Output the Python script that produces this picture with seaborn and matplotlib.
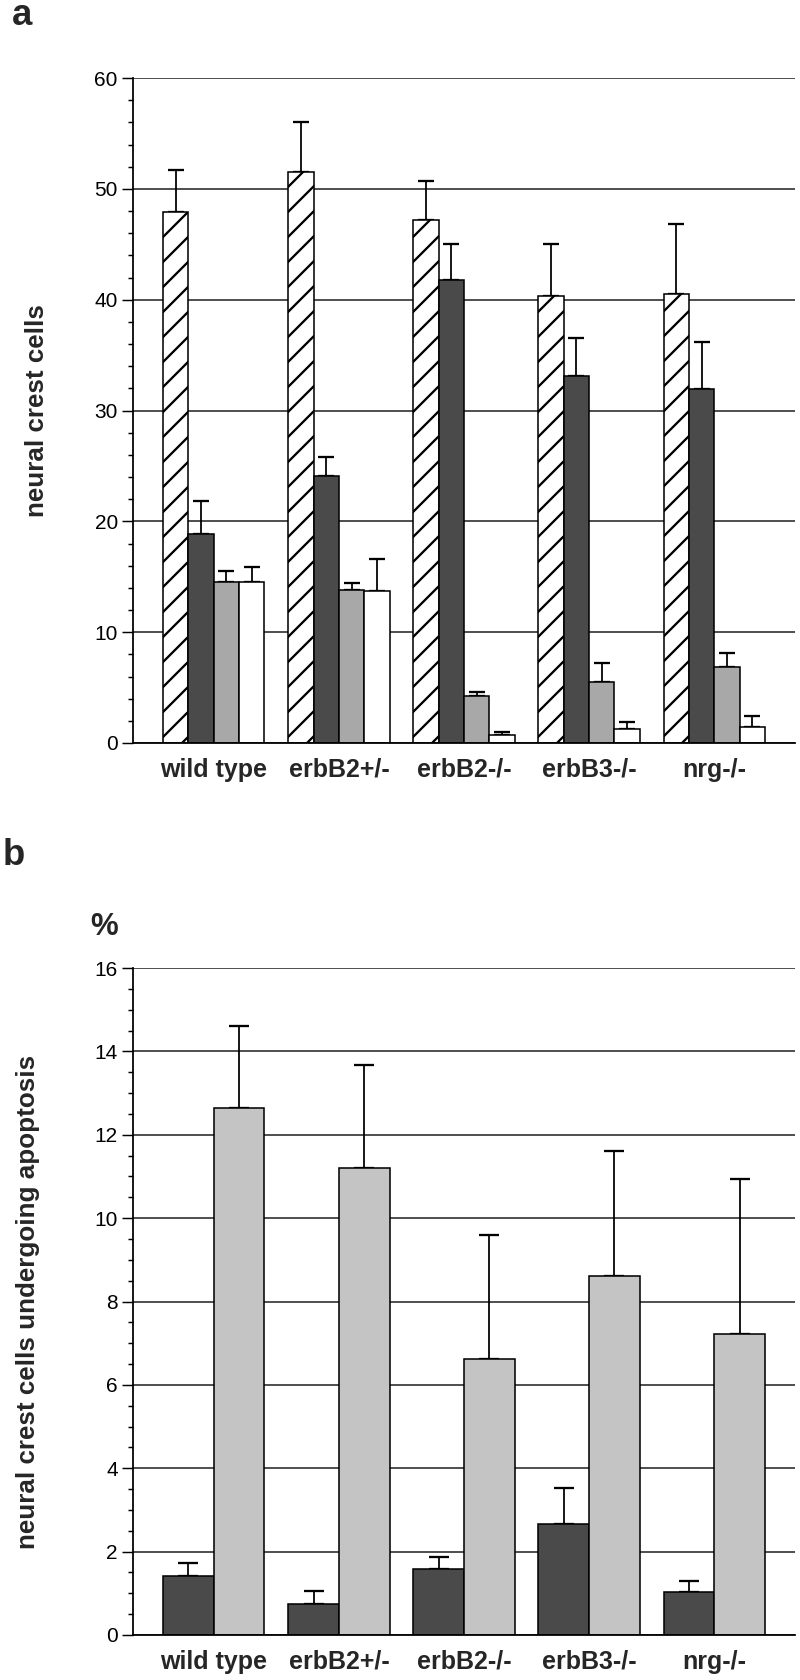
import numpy as np
import pandas as pd
import matplotlib
matplotlib.use("Agg")
import matplotlib.pyplot as plt
import seaborn as sns
from matplotlib.ticker import MultipleLocator

# ---------------- data ----------------
groups = ["wild type", "erbB2+/-", "erbB2-/-", "erbB3-/-", "nrg-/-"]

# panel a : neural crest cells (4 series)
a_series = ["s1", "s2", "s3", "s4"]
a_s1 = [47.9, 51.5, 47.2, 40.3, 40.5]
a_s1_err = [3.8, 4.5, 3.5, 4.7, 6.3]
a_s2 = [18.9, 24.1, 41.8, 33.1, 31.9]
a_s2_err = [2.9, 1.7, 3.2, 3.4, 4.3]
a_s3 = [14.5, 13.8, 4.2, 5.5, 6.9]
a_s3_err = [1.0, 0.6, 0.4, 1.7, 1.2]
a_s4 = [14.5, 13.7, 0.7, 1.3, 1.4]
a_s4_err = [1.4, 2.9, 0.3, 0.6, 1.0]
a_yticks = [0, 10, 20, 30, 40, 50, 60]

# panel b : % apoptosis (2 series)
b_series = ["b1", "b2"]
b_s1 = [1.42, 0.74, 1.58, 2.67, 1.03]
b_s1_err = [0.31, 0.32, 0.28, 0.86, 0.27]
b_s2 = [12.64, 11.2, 6.63, 8.6, 7.23]
b_s2_err = [1.96, 2.48, 2.97, 3.0, 3.71]
b_yticks = [0, 2, 4, 6, 8, 10, 12, 14, 16]

# ---------------- style ----------------
sns.set_theme(style="ticks")
plt.rcParams["font.family"] = ["Liberation Sans", "DejaVu Sans"]
plt.rcParams["hatch.linewidth"] = 1.1

DPI = 150
fig = plt.figure(figsize=(800 / DPI, 1680 / DPI), dpi=DPI)

ax1 = fig.add_axes([133 / 800, (1680 - 743) / 1680, 662 / 800, 665 / 1680])
ax2 = fig.add_axes([133 / 800, (1680 - 1635) / 1680, 662 / 800, 667 / 1680])


def panel(ax, series, values, errs, colors, yticks, minor, capsize, ylabel, label_x):
    rows = []
    for s, vals in zip(series, values):
        for g, v in zip(groups, vals):
            rows.append({"group": g, "series": s, "value": v})
    df = pd.DataFrame(rows)
    sns.barplot(data=df, x="group", y="value", hue="series", order=groups,
                hue_order=series, palette=colors, width=0.81, saturation=1,
                edgecolor="black", linewidth=0.75, errorbar=None, legend=False, ax=ax)
    for cont, sd in zip(ax.containers, errs):
        xs = [p.get_x() + p.get_width() / 2 for p in cont]
        hs = [p.get_height() for p in cont]
        ax.errorbar(xs, hs, yerr=[np.zeros(len(sd)), sd], fmt="none",
                    ecolor="black", elinewidth=0.85, capsize=capsize,
                    capthick=1.1, zorder=0.9)
    ax.set_ylim(yticks[0], yticks[-1])
    ax.set_yticks(yticks)
    ax.yaxis.set_minor_locator(MultipleLocator(minor))
    ax.set_axisbelow(True)
    ax.grid(axis="y", which="major", color="#222222", linewidth=0.75)
    ax.grid(axis="x", visible=False)
    for sp in ["top", "right"]:
        ax.spines[sp].set_visible(False)
    for sp in ["left", "bottom"]:
        ax.spines[sp].set_linewidth(0.85)
        ax.spines[sp].set_color("black")
    ax.tick_params(axis="y", which="major", length=5.3, width=0.7, pad=2,
                   labelsize=10, colors="black")
    ax.tick_params(axis="y", which="minor", length=2.6, width=0.7, colors="black")
    ax.tick_params(axis="x", length=0, pad=7, labelsize=12)
    for t in ax.get_xticklabels():
        t.set_fontweight("bold")
    ax.set_xlabel("")
    ax.set_ylabel(ylabel, fontsize=12.5, fontweight="bold", va="center", ha="center")
    ax.yaxis.set_label_coords(label_x, 0.5)
    return ax


panel(ax1, a_series, [a_s1, a_s2, a_s3, a_s4], [a_s1_err, a_s2_err, a_s3_err, a_s4_err],
      ["white", "#4a4a4a", "#a8a8a8", "white"], a_yticks, 2, 3.8,
      "neural crest cells", (37 - 133) / 662)
for p in ax1.containers[0]:
    p.set_hatch("//")

panel(ax2, b_series, [b_s1, b_s2], [b_s1_err, b_s2_err],
      ["#4a4a4a", "#c4c4c4"], b_yticks, 0.5, 4.8,
      "neural crest cells undergoing apoptosis", (28 - 133) / 662)

fig.text(12 / 800, 1 - 25 / 1680, "a", fontsize=17.5, fontweight="bold",
         ha="left", va="baseline")
fig.text(3 / 800, 1 - 865 / 1680, "b", fontsize=17.5, fontweight="bold",
         ha="left", va="baseline")
fig.text(90 / 800, 1 - 935 / 1680, "%", fontsize=15, fontweight="bold",
         ha="left", va="baseline")

fig.savefig("out.png", dpi=DPI, facecolor="white")
